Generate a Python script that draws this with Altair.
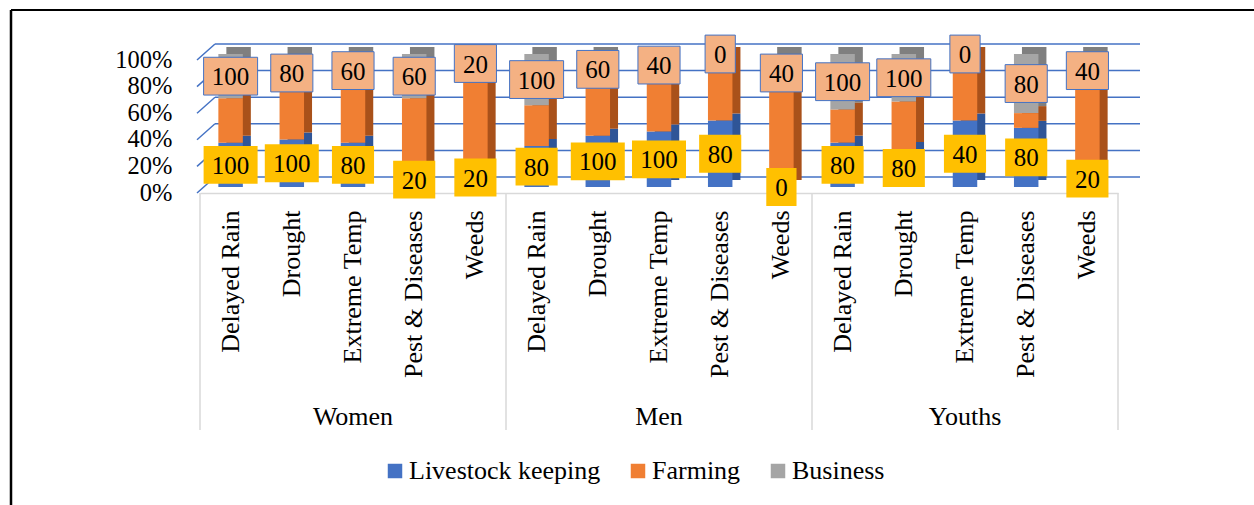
import altair as alt
import pandas as pd

groups = ["Women", "Men", "Youths"]
causes = ["Delayed Rain", "Drought", "Extreme Temp", "Pest & Diseases", "Weeds"]
series = ["Livestock keeping", "Farming", "Business"]
livestock = [100, 100, 80, 20, 20, 80, 100, 100, 80, 0, 80, 80, 40, 80, 20]
farming = [100, 100, 100, 100, 100, 80, 100, 100, 80, 100, 60, 100, 40, 20, 100]
business = [100, 80, 60, 60, 20, 100, 60, 40, 0, 40, 100, 100, 0, 80, 40]
y_ticks = [0, 0.2, 0.4, 0.6, 0.8, 1.0]

front_colors = ["#4472C4", "#F07F33", "#A5A5A5"]
side_colors = ["#2F5597", "#A9511A", "#7F7F7F"]

keys = [f"{g}|{c}" for g in groups for c in causes]
wide = pd.DataFrame({"key": keys, "L": livestock, "F": farming, "B": business})
rows = []
for i, k in enumerate(keys):
    for j, (s, v) in enumerate(zip(series, [livestock[i], farming[i], business[i]])):
        rows.append({"key": k, "series": s, "value": v, "order": j})
long = pd.DataFrame(rows)

FONT = "Liberation Serif"
W, H = 918, 133
OFF = 10

xscale = alt.Scale(domain=keys, paddingInner=0, paddingOuter=0)
yscale = alt.Scale(domain=[0, 1])
x_axis = alt.Axis(title=None, labelExpr="split(datum.label, '|')[1]", labelAngle=270,
                  labelFont=FONT, labelFontSize=26, labelColor="black", labelPadding=17,
                  labelLimit=400, ticks=False, domainColor="#D9D9D9", domainWidth=1.5,
                  offset=16, grid=False)
y_axis = alt.Axis(title=None, format="%", values=y_ticks, labelFont=FONT, labelFontSize=24.5,
                  labelColor="black", labelPadding=28, labelOffset=16, ticks=False,
                  domain=False, grid=False)


def X(field="key", **kw):
    return alt.X(f"{field}:N", scale=xscale, axis=x_axis, **kw)


def Y(field, **kw):
    return alt.Y(f"{field}:Q", scale=yscale, axis=y_axis, **kw)


ticks_df = pd.DataFrame({"t": y_ticks})
grid_h = alt.Chart(ticks_df).mark_rule(color="#4472C4", strokeWidth=1.5).encode(
    y=Y("t"), x=alt.value(15), x2=alt.value(940))
grid_d = alt.Chart(ticks_df).mark_rule(color="#4472C4", strokeWidth=1.5, yOffset=16).encode(
    y=Y("t"), y2=alt.Y2("t:Q"), x=alt.value(-3), x2=alt.value(15))

sep_df = pd.DataFrame({"key": [f"{g}|{causes[0]}" for g in groups]})
seps = alt.Chart(sep_df).mark_rule(color="#D9D9D9", strokeWidth=1.5).encode(
    x=X(bandPosition=0), y=alt.value(149), y2=alt.value(386))
sep_last = alt.Chart(pd.DataFrame({"key": [keys[-1]]})).mark_rule(color="#D9D9D9", strokeWidth=1.5).encode(
    x=X(bandPosition=1), y=alt.value(149), y2=alt.value(386))

side = alt.Chart(long).mark_bar(width=alt.RelativeBandSize(0.4), xOffset=8,
                                yOffset=OFF - 7, y2Offset=OFF - 7).encode(
    x=X(), y=Y("value", stack="normalize"),
    color=alt.Color("series:N", scale=alt.Scale(domain=series, range=side_colors), legend=None),
    order=alt.Order("order:Q"))

front = alt.Chart(long).mark_bar(width=alt.RelativeBandSize(0.4), yOffset=OFF, y2Offset=OFF).encode(
    x=X(), y=Y("value", stack="normalize"),
    color=alt.Color("series:N", scale=alt.Scale(domain=series, range=front_colors),
                    legend=alt.Legend(orient="none", legendX=182, legendY=414, direction="horizontal",
                                      title=None, labelFont=FONT, labelFontSize=26, labelColor="black",
                                      symbolType="square", symbolSize=210, symbolStrokeWidth=0,
                                      columnPadding=24, labelOffset=1, labelLimit=400)),
    order=alt.Order("order:Q"))

paths = ["M-0.56,-0.7L0.56,-0.7L0.56,0.7L-0.56,0.7Z",
         "M-0.78,-0.7L0.78,-0.7L0.78,0.7L-0.78,0.7Z",
         "M-1,-0.7L1,-0.7L1,0.7L-1,0.7Z"]
shape_scale = alt.Scale(domain=[1, 2, 3], range=paths)

lab = alt.Chart(wide).transform_calculate(
    lc="datum.L/(datum.L+datum.F+datum.B)/2",
    bc="(datum.L+datum.F+datum.B/2)/(datum.L+datum.F+datum.B)",
    nl="length(toString(datum.L))",
    nb="length(toString(datum.B))")

ybox = lab.mark_point(filled=True, color="#FFC000", opacity=1, size=2916, yOffset=OFF).encode(
    x=X(), y=Y("lc"), shape=alt.Shape("nl:O", scale=shape_scale, legend=None))
ytext = lab.mark_text(font=FONT, fontSize=25, color="black", baseline="middle", yOffset=OFF + 1).encode(
    x=X(), y=Y("lc"), text=alt.Text("L:Q"))
bbox = lab.mark_point(filled=True, fill="#F4B183", stroke="#4472C4", strokeWidth=1, opacity=1,
                      size=2916, yOffset=OFF).encode(
    x=X(), y=Y("bc"), shape=alt.Shape("nb:O", scale=shape_scale, legend=None))
btext = lab.mark_text(font=FONT, fontSize=25, color="black", baseline="middle", yOffset=OFF + 1).encode(
    x=X(), y=Y("bc"), text=alt.Text("B:Q"))

grp_df = pd.DataFrame({"key": [f"{g}|{causes[2]}" for g in groups], "g": groups})
grp = alt.Chart(grp_df).mark_text(font=FONT, fontSize=26, color="black", baseline="middle").encode(
    x=X(), y=alt.value(373), text="g:N")

one = pd.DataFrame({"a": [0]})
border_l = alt.Chart(one).mark_rule(color="black", strokeWidth=2.5).encode(
    x=alt.value(-189), y=alt.value(-34), y2=alt.value(480))
border_t = alt.Chart(one).mark_rule(color="black", strokeWidth=2).encode(
    x=alt.value(-189), x2=alt.value(1070), y=alt.value(-34))

chart = alt.layer(grid_h, grid_d, seps, sep_last, side, front, ybox, ytext, bbox, btext, grp,
                  border_l, border_t).resolve_scale(color="independent").properties(
    width=W, height=H,
    padding={"left": 200, "top": 44, "right": 136, "bottom": 328},
    autosize=alt.AutoSizeParams(type="none"),
    background="white",
).configure_view(stroke=None)

chart.save("out.html", embed_options={"renderer": "svg", "actions": False})
